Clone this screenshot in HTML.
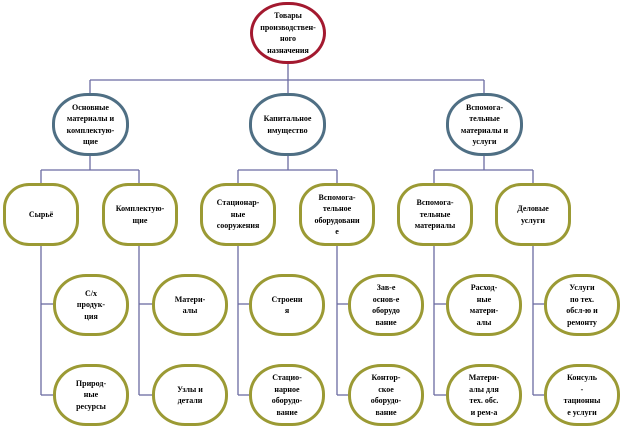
<!DOCTYPE html>
<html>
<head>
<meta charset="utf-8">
<style>
  html, body { margin:0; padding:0; background:#fff; }
  body { width:623px; height:429px; position:relative; overflow:hidden;
         font-family:"Liberation Serif","DejaVu Serif",serif; }
  svg { position:absolute; left:0; top:0; }
  .n { position:absolute; box-sizing:border-box; display:flex; align-items:center; justify-content:center;
       text-align:center; font-weight:bold; font-size:8px; line-height:11.5px; color:#000; background:#fff; }
  .t { border:3px solid #a3192f; border-radius:48%/50%; }
  .s { border:3px solid #4f6f84; border-radius:46%/48%; }
  .o3 { border:3px solid #9b9a34; border-radius:26px/25px; }
  .o4 { border:3px solid #9b9a34; border-radius:33px/30px; }
</style>
</head>
<body>
<svg width="623" height="429" viewBox="0 0 623 429">
  <g stroke="#6b6ba2" stroke-width="1.3" fill="none">
    <line x1="288" y1="63" x2="288" y2="80"/>
    <line x1="90" y1="80" x2="484" y2="80"/>
    <line x1="90" y1="80" x2="90" y2="94"/>
    <line x1="288" y1="80" x2="288" y2="94"/>
    <line x1="484" y1="80" x2="484" y2="94"/>

    <line x1="90" y1="155" x2="90" y2="170"/>
    <line x1="41" y1="170" x2="139" y2="170"/>
    <line x1="288" y1="155" x2="288" y2="170"/>
    <line x1="238" y1="170" x2="337" y2="170"/>
    <line x1="484" y1="155" x2="484" y2="170"/>
    <line x1="434" y1="170" x2="533" y2="170"/>

    <line x1="41" y1="170" x2="41" y2="395"/>
    <line x1="139" y1="170" x2="139" y2="395"/>
    <line x1="238" y1="170" x2="238" y2="395"/>
    <line x1="337" y1="170" x2="337" y2="395"/>
    <line x1="434" y1="170" x2="434" y2="395"/>
    <line x1="533" y1="170" x2="533" y2="395"/>

    <line x1="41" y1="304" x2="55" y2="304"/><line x1="41" y1="395" x2="55" y2="395"/>
    <line x1="139" y1="304" x2="154" y2="304"/><line x1="139" y1="395" x2="154" y2="395"/>
    <line x1="238" y1="304" x2="251" y2="304"/><line x1="238" y1="395" x2="251" y2="395"/>
    <line x1="337" y1="304" x2="350" y2="304"/><line x1="337" y1="395" x2="350" y2="395"/>
    <line x1="434" y1="304" x2="448" y2="304"/><line x1="434" y1="395" x2="448" y2="395"/>
    <line x1="533" y1="304" x2="546" y2="304"/><line x1="533" y1="395" x2="546" y2="395"/>
  </g>
</svg>

<div class="n t" style="left:250px;top:2px;width:76px;height:62px;">Товары<br>производствен-<br>ного<br>назначения</div>

<div class="n s" style="left:52px;top:93px;width:77px;height:63px;">Основные<br>материалы и<br>комплектую-<br>щие</div>
<div class="n s" style="left:249px;top:93px;width:77px;height:63px;">Капитальное<br>имущество</div>
<div class="n s" style="left:446px;top:93px;width:77px;height:63px;">Вспомога-<br>тельные<br>материалы и<br>услуги</div>

<div class="n o3" style="left:3px;top:183px;width:76px;height:63px;">Сырьё</div>
<div class="n o3" style="left:102px;top:183px;width:76px;height:63px;">Комплектую-<br>щие</div>
<div class="n o3" style="left:200px;top:183px;width:76px;height:63px;">Стационар-<br>ные<br>сооружения</div>
<div class="n o3" style="left:299px;top:183px;width:76px;height:63px;">Вспомога-<br>тельное<br>оборудовани<br>е</div>
<div class="n o3" style="left:397px;top:183px;width:76px;height:63px;">Вспомога-<br>тельные<br>материалы</div>
<div class="n o3" style="left:495px;top:183px;width:76px;height:63px;">Деловые<br>услуги</div>

<div class="n o4" style="left:53px;top:274px;width:76px;height:62px;">С/х<br>продук-<br>ция</div>
<div class="n o4" style="left:53px;top:364px;width:76px;height:62px;">Природ-<br>ные<br>ресурсы</div>
<div class="n o4" style="left:152px;top:274px;width:76px;height:62px;">Матери-<br>алы</div>
<div class="n o4" style="left:152px;top:364px;width:76px;height:62px;">Узлы и<br>детали</div>
<div class="n o4" style="left:249px;top:274px;width:76px;height:62px;">Строени<br>я</div>
<div class="n o4" style="left:249px;top:364px;width:76px;height:62px;">Стацио-<br>нарное<br>оборудо-<br>вание</div>
<div class="n o4" style="left:348px;top:274px;width:76px;height:62px;">Зав-е<br>основ-е<br>оборудо<br>вание</div>
<div class="n o4" style="left:348px;top:364px;width:76px;height:62px;">Контор-<br>ское<br>оборудо-<br>вание</div>
<div class="n o4" style="left:446px;top:274px;width:76px;height:62px;">Расход-<br>ные<br>матери-<br>алы</div>
<div class="n o4" style="left:446px;top:364px;width:76px;height:62px;">Матери-<br>алы для<br>тех. обс.<br>и рем-а</div>
<div class="n o4" style="left:544px;top:274px;width:76px;height:62px;">Услуги<br>по тех.<br>обсл-ю и<br>ремонту</div>
<div class="n o4" style="left:544px;top:364px;width:76px;height:62px;">Консуль<br>-<br>тационны<br>е услуги</div>
</body>
</html>
